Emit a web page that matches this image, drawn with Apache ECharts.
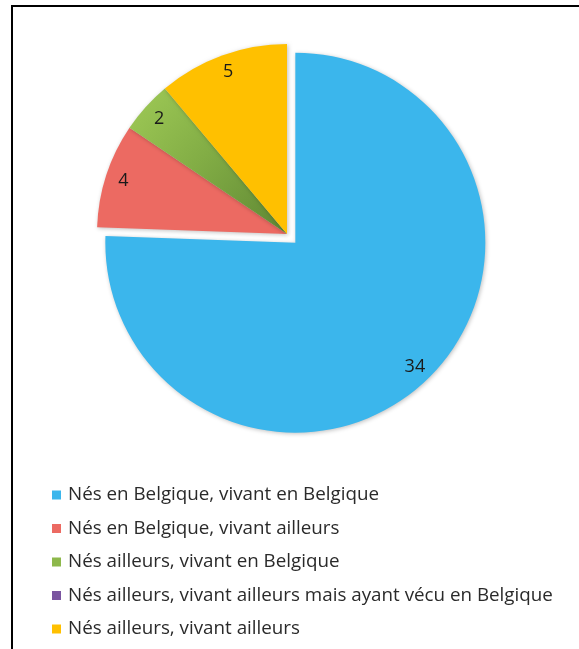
<!DOCTYPE html>
<html>
<head>
<meta charset="utf-8">
<style>
html,body{margin:0;padding:0;background:#fff;}
#chart{width:579px;height:649px;}
</style>
<script src="https://cdn.jsdelivr.net/npm/echarts@6/dist/echarts.min.js"></script>
</head>
<body>
<div id="chart"></div>
<script>
var categories = [
  'Nés en Belgique, vivant en Belgique',
  'Nés en Belgique, vivant ailleurs',
  'Nés ailleurs, vivant en Belgique',
  'Nés ailleurs, vivant ailleurs mais ayant vécu en Belgique',
  'Nés ailleurs, vivant ailleurs'
];
var values = [34, 4, 2, 0, 5];
var colors = ['#3BB6EC', '#EC6A62', '#8DB84B', '#7A55A0', '#FFC000'];

var CX = 287, CY = 234, R = 190;

var chart = echarts.init(document.getElementById('chart'), null, {renderer: 'canvas'});

function sliceColor(i) {
  if (i === 2) {
    return {
      type: 'radial', x: CX, y: CY, r: R, global: true,
      colorStops: [{offset: 0, color: '#5F8733'}, {offset: 0.6, color: '#82AD45'}, {offset: 1, color: '#98C352'}]
    };
  }
  return colors[i];
}

var mainData = categories.map(function (n, i) {
  return {name: n, value: values[i], selected: i === 0, itemStyle: {color: sliceColor(i)}};
});
var labelData = categories.map(function (n, i) {
  return {name: n, value: values[i], selected: i === 0};
});

chart.setOption({
  animation: false,
  graphic: [{
    type: 'rect',
    shape: {x: 12, y: 6, width: 700, height: 800},
    style: {fill: 'none', stroke: '#000', lineWidth: 2},
    silent: true, z: 100
  }],
  legend: {
    orient: 'vertical',
    left: 52,
    top: 485,
    padding: 0,
    itemWidth: 9,
    itemHeight: 9,
    itemGap: 13.5,
    icon: 'rect',
    selectedMode: false,
    textStyle: {fontFamily: 'Open Sans', fontSize: 18.8, color: '#2a2a2a', lineHeight: 20, padding: [0, 0, 0, 2]},
    data: categories.map(function (n, i) {
      return {name: n, itemStyle: {color: colors[i]}};
    })
  },
  series: [{
    type: 'pie',
    center: [CX, CY],
    radius: [0, R],
    startAngle: 90,
    clockwise: true,
    selectedMode: 'single',
    selectedOffset: 12,
    silent: true,
    label: {show: false},
    labelLine: {show: false},
    emphasis: {disabled: true},
    itemStyle: {shadowBlur: 4, shadowColor: 'rgba(0,0,0,0.25)', shadowOffsetX: 1, shadowOffsetY: 1},
    data: mainData
  }, {
    type: 'pie',
    center: [CX, CY],
    radius: [R * 0.78, R],
    startAngle: 90,
    clockwise: true,
    selectedMode: 'single',
    selectedOffset: 12,
    silent: true,
    itemStyle: {color: 'rgba(0,0,0,0)'},
    emphasis: {disabled: true},
    labelLine: {show: false},
    label: {
      show: true,
      position: 'inside',
      fontFamily: 'Open Sans',
      fontSize: 18,
      color: '#1a1a1a',
      formatter: function (p) { return p.value === 0 ? '' : String(p.value); }
    },
    data: labelData
  }]
});
</script>
</body>
</html>
